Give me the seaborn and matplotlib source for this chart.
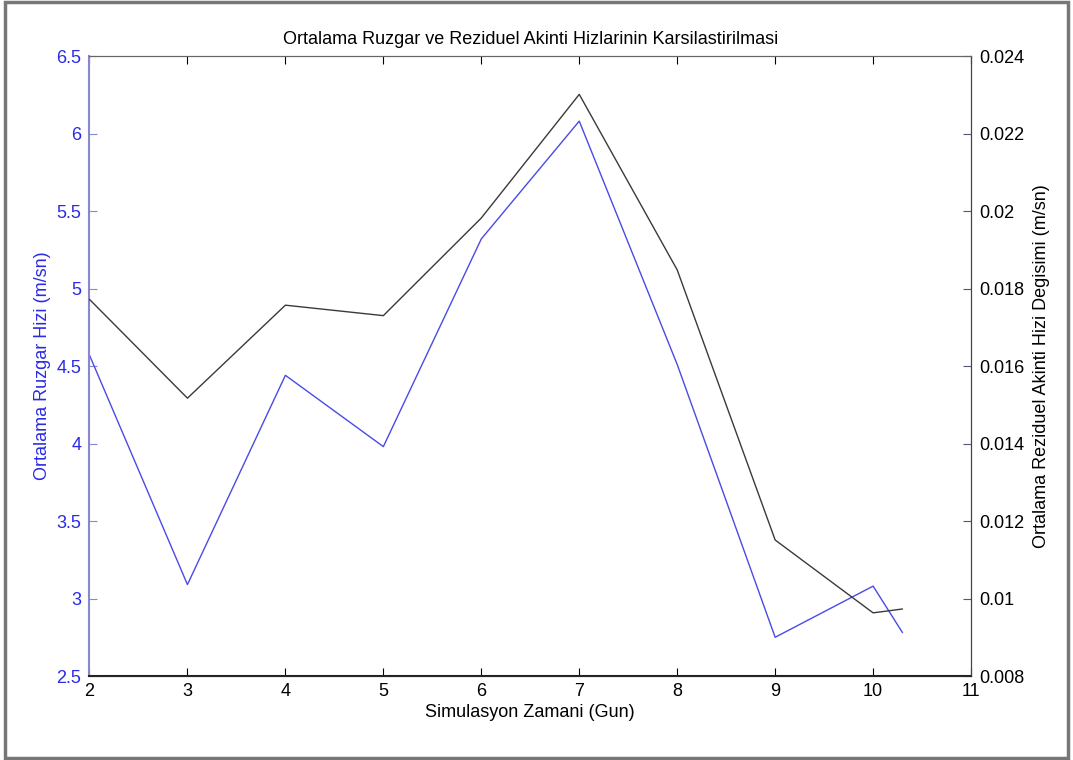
import matplotlib
matplotlib.use("Agg")
import matplotlib.pyplot as plt
import matplotlib.ticker as mticker
from matplotlib.patches import Rectangle
import seaborn as sns
import pandas as pd

# Data
days = [2, 3, 4, 5, 6, 7, 8, 9, 10, 10.3]
wind_speed = [4.57, 3.09, 4.44, 3.98, 5.32, 6.08, 4.51, 2.75, 3.08, 2.78]
residual_speed = [0.01772, 0.01517, 0.01757, 0.0173, 0.01982, 0.02301, 0.01848, 0.01151, 0.00963, 0.00973]

left_ticks = [2.5, 3, 3.5, 4, 4.5, 5, 5.5, 6, 6.5]
right_ticks = [0.008, 0.01, 0.012, 0.014, 0.016, 0.018, 0.02, 0.022, 0.024]
x_ticks = [2, 3, 4, 5, 6, 7, 8, 9, 10, 11]

title = "Ortalama Ruzgar ve Reziduel Akinti Hizlarinin Karsilastirilmasi"
xlabel = "Simulasyon Zamani (Gun)"
ylabel_left = "Ortalama Ruzgar Hizi (m/sn)"
ylabel_right = "Ortalama Reziduel Akinti Hizi Degisimi (m/sn)"

df = pd.DataFrame({"day": days, "wind": wind_speed, "resid": residual_speed})

sns.set_style("white")
plt.rcParams["font.family"] = ["Liberation Sans", "DejaVu Sans"]

blue = "#4a4ae6"
blue_txt = "#2a2ae8"

fig = plt.figure(figsize=(10.73, 7.6), dpi=100)
ax = fig.add_axes([0.0834, 0.1105, 0.8216, 0.8158])
ax2 = ax.twinx()

sns.lineplot(data=df, x="day", y="wind", ax=ax, color=blue, linewidth=1.0)
sns.lineplot(data=df, x="day", y="resid", ax=ax2, color="#3a3a3a", linewidth=1.0)

ax.set_xlim(2, 11)
ax.set_ylim(2.5, 6.5)
ax2.set_ylim(0.008, 0.024)
ax.set_xticks(x_ticks)
ax.set_yticks(left_ticks)
ax2.set_yticks(right_ticks)
fmt = mticker.FuncFormatter(lambda v, p: "%g" % v)
ax.yaxis.set_major_formatter(fmt)
ax2.yaxis.set_major_formatter(fmt)
ax.xaxis.set_major_formatter(fmt)

ax.tick_params(axis="x", direction="in", length=6, top=True, bottom=True, labelsize=13,
               colors="black", pad=5)
ax.tick_params(axis="y", direction="in", length=6, labelsize=13, colors="#8888d0",
               labelcolor=blue_txt, pad=6)
ax2.tick_params(axis="y", direction="in", length=6, labelsize=13, colors="#555577",
                labelcolor="black", pad=6)

for a in (ax, ax2):
    for s in a.spines.values():
        s.set_visible(True)
ax.spines["left"].set_color("#8888d0")
ax.spines["left"].set_linewidth(1.5)
ax.spines["bottom"].set_color("#222222")
ax.spines["bottom"].set_linewidth(1.5)
ax.spines["top"].set_color("#666666")
ax2.spines["right"].set_color("#444444")
ax2.spines["left"].set_visible(False)
ax2.spines["top"].set_color("#666666")

ax.set_title(title, fontsize=13, color="black", pad=9)
ax.set_xlabel(xlabel, fontsize=13, color="black", labelpad=3)
ax.set_ylabel(ylabel_left, fontsize=13, color=blue_txt, labelpad=4)
ax2.set_ylabel(ylabel_right, fontsize=13, color="black", labelpad=6)

fig.patches.append(Rectangle((0.005, 0.003), 0.99, 0.994, transform=fig.transFigure,
                             fill=False, edgecolor="#777777", linewidth=2.5))

fig.savefig("out.png", dpi=100, facecolor="white")
